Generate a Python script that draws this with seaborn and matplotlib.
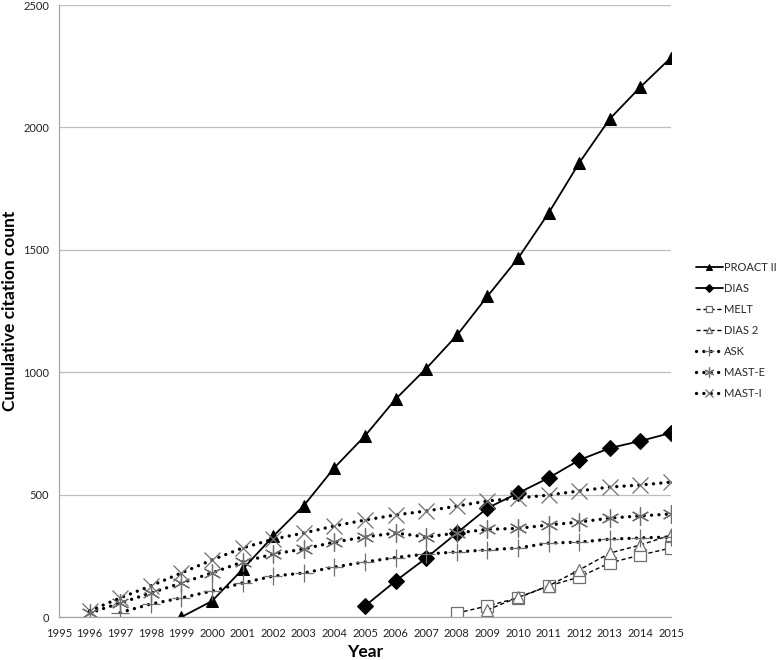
import matplotlib
matplotlib.use("Agg")
import matplotlib.pyplot as plt
import seaborn as sns
import numpy as np
import pandas as pd

# ---- data ----
proact_years = list(range(1999, 2016))
proact_vals = [0, 65, 195, 330, 455, 610, 740, 890, 1015, 1150, 1310, 1465, 1650, 1855, 2035, 2165, 2285]

dias_years = list(range(2005, 2016))
dias_vals = [45, 147, 241, 343, 445, 506, 568, 641, 690, 719, 752]

melt_years = list(range(2008, 2016))
melt_vals = [16, 45, 78, 127, 163, 221, 253, 282]

dias2_years = list(range(2009, 2016))
dias2_vals = [29, 80, 127, 192, 261, 294, 335]

ask_years = list(range(1997, 2016))
ask_vals = [18, 53, 78, 106, 139, 167, 180, 204, 225, 243, 257, 266, 274, 282, 302, 306, 318, 323, 327]

maste_years = list(range(1996, 2016))
maste_vals = [16, 57, 98, 139, 180, 225, 257, 278, 306, 327, 343, 327, 343, 358, 362, 376, 388, 404, 413, 421]

masti_years = list(range(1996, 2016))
masti_vals = [25, 78, 127, 180, 233, 282, 318, 343, 372, 396, 417, 433, 453, 474, 486, 498, 515, 531, 539, 551]

year_ticks = list(range(1995, 2016))
y_ticks = [0, 500, 1000, 1500, 2000, 2500]

sns.set_theme(style="white")
plt.rcParams['font.family'] = ['Lato', 'DejaVu Sans']

W, H = 778, 660
fig = plt.figure(figsize=(W / 100, H / 100), dpi=100)
ax = fig.add_axes([59 / W, 1 - 617 / H, (671 - 59) / W, (617 - 5) / H])

dot = (0, (0.01, 2.2))
gray = '#6f6f6f'
asterisk = (6, 2, 0)

series = [
    ("PROACT II", proact_years, proact_vals,
     dict(color='black', lw=1.3, ls='-', marker='^', ms=9, mfc='black', mec='black')),
    ("DIAS", dias_years, dias_vals,
     dict(color='black', lw=1.3, ls='-', marker='D', ms=8, mfc='black', mec='black')),
    ("MELT", melt_years, melt_vals,
     dict(color='black', lw=1.0, ls=(0, (3, 2)), marker='s', ms=8, mfc='white', mec=gray, mew=0.9)),
    ("DIAS 2", dias2_years, dias2_vals,
     dict(color='black', lw=1.0, ls=(0, (3, 2)), marker='^', ms=8, mfc='white', mec=gray, mew=0.9)),
    ("ASK", ask_years, ask_vals,
     dict(color='black', lw=2.4, ls=dot, dash_capstyle='round', marker='+', ms=13, mec=gray, mew=0.9)),
    ("MAST-E", maste_years, maste_vals,
     dict(color='black', lw=2.4, ls=dot, dash_capstyle='round', marker=asterisk, ms=13, mec=gray, mew=0.9)),
    ("MAST-I", masti_years, masti_vals,
     dict(color='black', lw=2.4, ls=dot, dash_capstyle='round', marker='x', ms=11, mec=gray, mew=0.9)),
]

for name, xs, ys, kw in series:
    df = pd.DataFrame({"Year": xs, "Count": ys})
    sns.lineplot(data=df, x="Year", y="Count", ax=ax, label=name, **kw)

ax.set_xlim(1995, 2015)
ax.set_ylim(0, 2500)
ax.set_xticks(year_ticks)
ax.set_xticklabels([str(y) for y in year_ticks])
ax.set_yticks(y_ticks)
ax.set_yticklabels([str(y) for y in y_ticks])

ax.grid(axis='y', color='#bfbfbf', lw=0.9)
ax.grid(axis='x', visible=False)
ax.set_axisbelow(True)
for s in ['top', 'right']:
    ax.spines[s].set_visible(False)
for s in ['left', 'bottom']:
    ax.spines[s].set_color('#a6a6a6')
    ax.spines[s].set_linewidth(0.9)

ax.tick_params(axis='both', which='both', direction='out', length=4, width=0.8,
               color='#a6a6a6', labelsize=8, labelcolor='#222222', pad=3)
ax.tick_params(axis='x', pad=4)

ax.set_xlabel("Year", fontsize=12.5, fontweight='bold', color='black')
ax.xaxis.label.set_va('baseline')
ax.xaxis.set_label_coords(0.5, (617 - 657) / 612)
ax.set_ylabel("Cumulative citation count", fontsize=12.5, fontweight='bold', color='black')
ax.yaxis.set_label_coords((18 - 59) / 612, 0.5)

leg = ax.legend(loc='upper left', bbox_to_anchor=(696 / W, 1 - 262 / H),
                bbox_transform=fig.transFigure, frameon=False, fontsize=8,
                handlelength=2.4, handletextpad=0.1, labelspacing=0.9,
                borderpad=0, borderaxespad=0, markerscale=0.55)

fig.savefig("out.png", dpi=100)
